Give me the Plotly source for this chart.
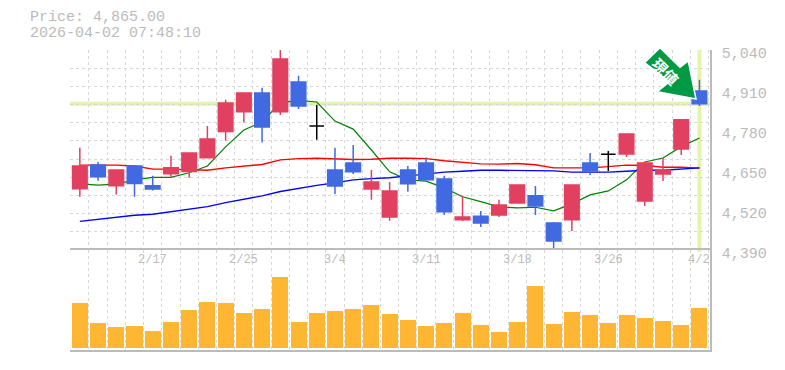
import plotly.graph_objects as go

dates = ["2/10","2/12","2/13","2/16","2/17","2/18","2/19","2/20","2/24","2/25","2/26","2/27","3/2","3/3","3/4","3/5","3/6","3/9","3/10","3/11","3/12","3/13","3/16","3/17","3/18","3/19","3/23","3/24","3/25","3/26","3/27","3/30","3/31","4/1","4/2"]
tick_labels = ["2/17","2/25","3/4","3/11","3/18","3/26","4/2"]
price_ticks = [5040,4910,4780,4650,4520,4390]

opens  = [4589,4666,4599,4663,4599,4638,4645,4690,4775,4839,4900,4839,4936,4793,4650,4673,4588,4497,4650,4673,4621,4488,4500,4504,4543,4566,4478,4488,4673,4701,4702,4549,4637,4718,4907]
closes = [4663,4628,4650,4606,4588,4657,4705,4751,4868,4900,4790,5011,4858,4793,4598,4644,4611,4582,4605,4618,4514,4497,4478,4536,4601,4533,4419,4601,4647,4701,4767,4673,4650,4813,4865]
highs  = [4722,4676,4650,4663,4631,4696,4705,4793,4878,4900,4917,5040,4956,4861,4722,4731,4650,4611,4663,4691,4631,4566,4517,4553,4601,4598,4481,4601,4705,4712,4767,4673,4689,4813,4943]
lows   = [4563,4615,4570,4563,4583,4625,4625,4690,4745,4804,4739,4829,4848,4748,4572,4637,4553,4485,4579,4618,4504,4484,4465,4497,4543,4504,4390,4452,4634,4647,4692,4533,4614,4699,4858]
ma_short = [4605,4601,4604,4618,4626,4626,4641,4663,4725,4780,4806,4868,4876,4871,4809,4783,4715,4644,4618,4614,4592,4563,4547,4530,4527,4529,4517,4540,4569,4582,4618,4676,4689,4726,4754]
ma_mid   = [4666,4666,4666,4663,4653,4653,4650,4649,4657,4663,4668,4683,4687,4688,4686,4684,4685,4688,4688,4687,4680,4675,4670,4669,4671,4667,4657,4657,4657,4661,4666,4665,4659,4659,4656]
ma_long  = [4483,4490,4495,4503,4506,4514,4522,4531,4544,4555,4566,4580,4591,4600,4608,4618,4622,4625,4631,4638,4643,4646,4649,4649,4649,4649,4647,4643,4643,4643,4646,4649,4649,4652,4657]
volumes = [44670,24670,20670,21670,16670,25670,37670,45670,44670,34670,38670,70670,25670,34670,36670,38670,42670,33670,27670,21670,24670,34670,22670,15670,25670,61670,23670,35670,32670,24670,32670,29670,26670,22670,39670]

current_price = 4865
current_time = "2026-04-02 07:48:10"

idx = list(range(len(dates)))
MONO = "Liberation Mono"
GREY = "#bbbbbb"
GRID = "#d8d8d8"
RED = "#e24060"
BLUE = "#4169e1"

def subset(cond):
    k = [i for i in idx if cond(i)]
    return dict(x=k, open=[opens[i] for i in k], close=[closes[i] for i in k],
                high=[highs[i] for i in k], low=[lows[i] for i in k])

fig = go.Figure()
for name, vals, col, w in [("short", ma_short, "#008000", 1.2), ("mid", ma_mid, "#ff0000", 1.4), ("long", ma_long, "#0000ff", 1.4)]:
    fig.add_trace(go.Scatter(x=idx, y=vals, mode="lines", line=dict(color=col, width=w),
                             xaxis="x", yaxis="y", name=name, hoverinfo="skip"))
fig.add_trace(go.Candlestick(**subset(lambda i: opens[i] != closes[i]), xaxis="x", yaxis="y3",
                             increasing=dict(line=dict(color=RED, width=1.5), fillcolor=RED),
                             decreasing=dict(line=dict(color=BLUE, width=1.5), fillcolor=BLUE)))
fig.add_trace(go.Candlestick(**subset(lambda i: opens[i] == closes[i]), xaxis="x", yaxis="y3",
                             increasing=dict(line=dict(color="#000000", width=1.5), fillcolor="#000000"),
                             decreasing=dict(line=dict(color="#000000", width=1.5), fillcolor="#000000")))
fig.add_trace(go.Bar(x=idx, y=volumes, marker=dict(color="#ffb733", line=dict(width=0)), width=0.88,
                     xaxis="x2", yaxis="y2", hoverinfo="skip"))

bounds = [i - 0.5 for i in range(len(dates) + 1)]
xr = [-0.5 - 0.04, len(dates) - 0.5 + 0.08]
py0, py1 = min(price_ticks), max(price_ticks)
grid_y = [py0 + (py1 - py0) * i / 11 for i in range(12)]
DASH = "3px,3px"

# arrow outline, in page pixels, converted to the plot-area fractions shapes use
arrow_px = [(644.5,62.7),(660,47.7),(680,67.3),(688.3,61),(696,99),(657.3,91.7),(669.3,81.7)]
arrow_path = "M " + " L ".join(f"{(x-70)/640:.5f} {1-(y-50)/300:.5f}" for x, y in arrow_px) + " Z"

date_annotations = [
    dict(xref="x", yref="paper", x=dates.index(t), y=1-(260-50)/300, xanchor="center", yanchor="middle",
         text=t, showarrow=False, font=dict(family=MONO, size=12, color=GREY))
    for t in tick_labels
]

fig.update_layout(
    width=785, height=370, margin=dict(l=70, r=75, t=50, b=20, pad=0, autoexpand=False),
    paper_bgcolor="#ffffff", plot_bgcolor="#ffffff", showlegend=False, hovermode=False,
    bargap=0, boxmode="overlay", boxgap=0.2, boxgroupgap=0,
    xaxis=dict(domain=[0, 1], range=xr, anchor="y", rangeslider=dict(visible=False), automargin=False,
               tickmode="array", tickvals=bounds, showticklabels=False, ticks="",
               showgrid=True, gridcolor=GRID, griddash=DASH, gridwidth=1, zeroline=False, showline=False),
    xaxis2=dict(domain=[0, 1], range=xr, anchor="y2", tickmode="array", tickvals=bounds, showticklabels=False,
                ticks="", showgrid=True, gridcolor=GRID, griddash=DASH, gridwidth=1, zeroline=False,
                showline=True, linecolor=GREY, linewidth=1.5, mirror=True),
    yaxis=dict(domain=[1/3, 1], range=[py0, py1], side="right", tickmode="array", tickvals=price_ticks,
               ticktext=[f"{v:,}" for v in price_ticks], tickfont=dict(family=MONO, size=15, color=GREY),
               ticks="", showgrid=False, zeroline=False, showline=True, linecolor=GREY, linewidth=1.5,
               minor=dict(tickmode="array", tickvals=grid_y, showgrid=True, gridcolor=GRID, griddash=DASH, gridwidth=1, ticks=""),
               ticklabelshift=3, ticklabelstandoff=7, anchor="x", automargin=False),
    yaxis3=dict(overlaying="y", matches="y", range=[py0, py1], visible=False, anchor="x"),
    yaxis2=dict(domain=[0.0, 1/3], range=[-1800, 98000], side="right", showticklabels=False, ticks="",
                showgrid=False, zeroline=False, showline=True, linecolor=GREY, linewidth=1.5, anchor="x2"),
    annotations=date_annotations + [
        dict(xref="paper", yref="paper", x=-42/640, y=1+(50-18)/300, xanchor="left", yanchor="middle",
             text=f"Price: {current_price:,.2f}", showarrow=False, font=dict(family=MONO, size=15, color=GREY)),
        dict(xref="paper", yref="paper", x=-42/640, y=1+(50-33)/300, xanchor="left", yanchor="middle",
             text=current_time, showarrow=False, font=dict(family=MONO, size=15, color=GREY)),
        dict(xref="paper", yref="paper", x=(666-70)/640, y=1-(71-50)/300, xanchor="center", yanchor="middle",
             text="<b>現値</b>", textangle=45, showarrow=False,
             font=dict(family="Noto Sans CJK JP", size=15, color="#ffffff")),
    ],
    shapes=[
        dict(type="line", layer="below", xref="x domain", yref="y", x0=0, x1=1, y0=current_price, y1=current_price,
             line=dict(color="#e3f5a6", width=4)),
        dict(type="line", layer="below", xref="x", yref="y domain", x0=34, x1=34, y0=-0.01, y1=1,
             line=dict(color="#e3f5a6", width=4)),
        dict(type="path", layer="above", xref="paper", yref="paper", path=arrow_path,
             fillcolor="#009a44", line=dict(color="#ffffff", width=1.5)),
    ],
)
fig.write_html("out.html", config=dict(displayModeBar=False), post_script="document.body.style.margin='0';")
